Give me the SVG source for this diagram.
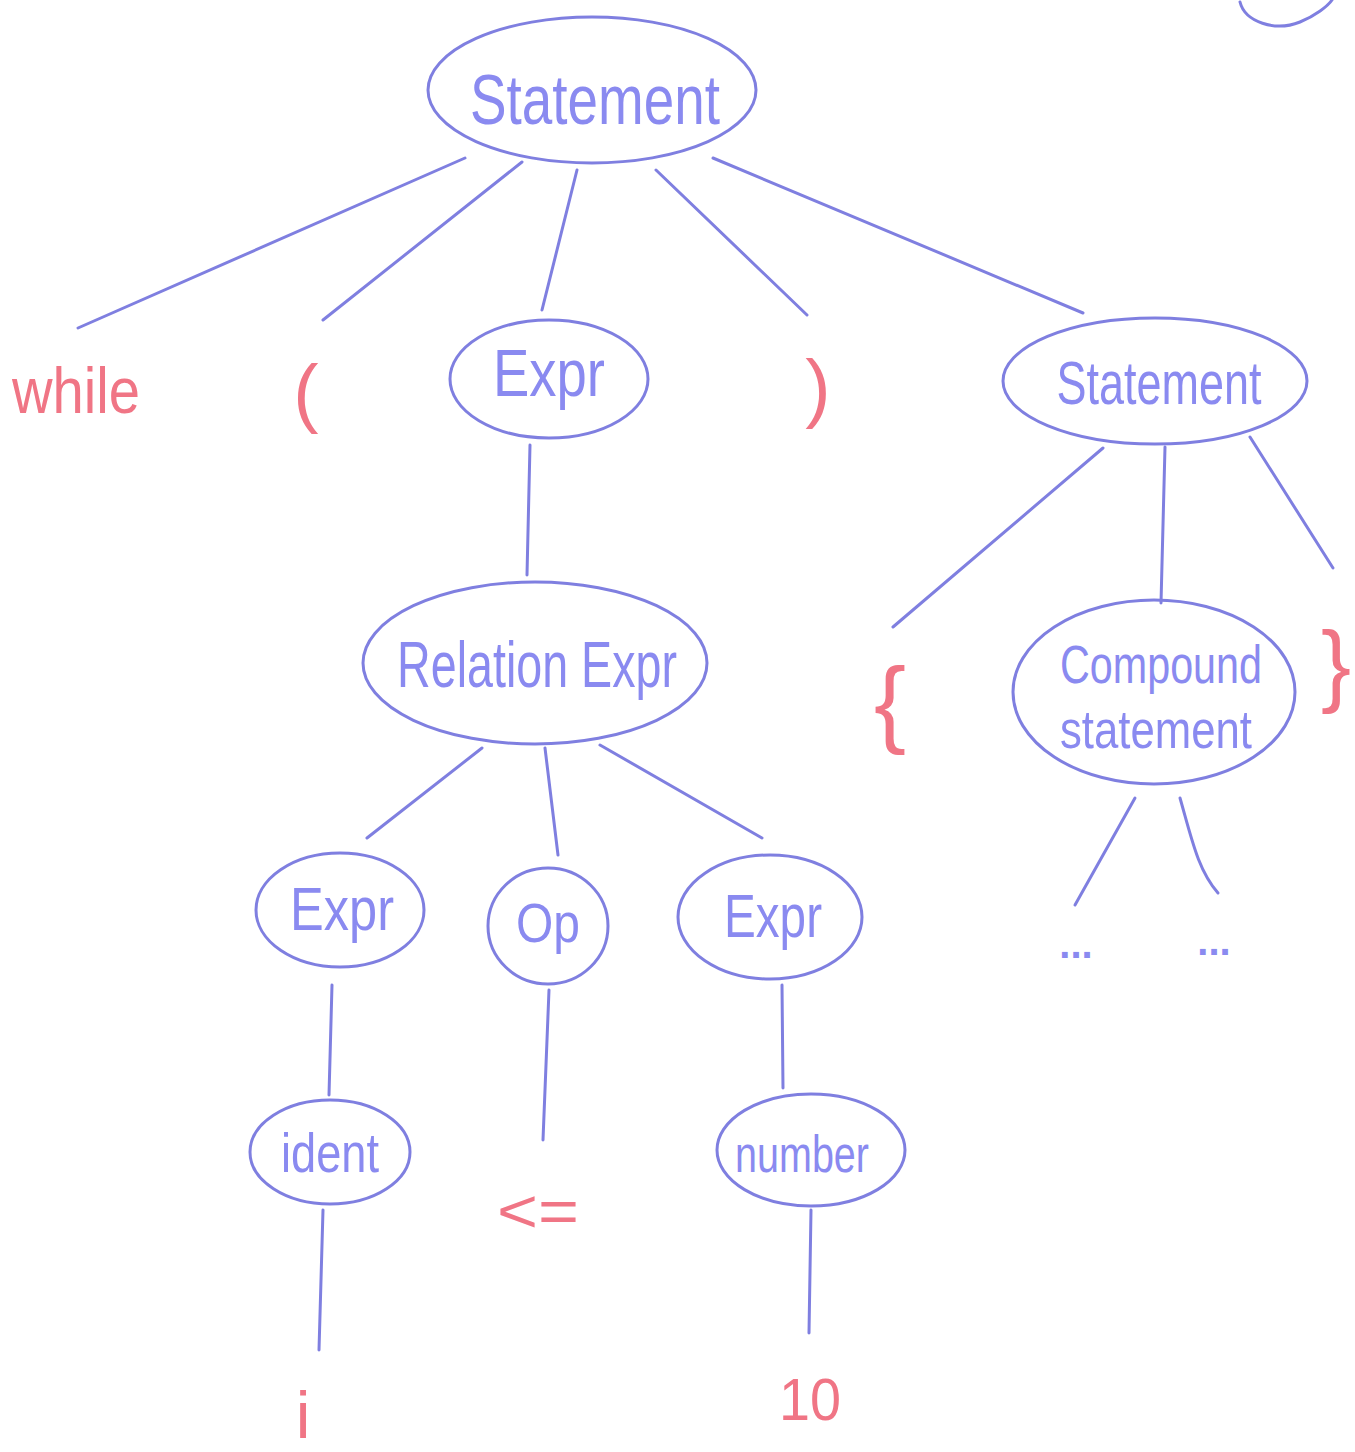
<svg xmlns="http://www.w3.org/2000/svg" width="1355" height="1452" viewBox="0 0 1355 1452">
<style>
.n{fill:none;stroke:#7f7fe0;stroke-width:3}
.e{stroke:#7f7fe0;stroke-width:3;fill:none;stroke-linecap:round}
.t{fill:#8a8af0;font-family:"Liberation Sans","DejaVu Sans",sans-serif;text-anchor:middle}
.r{fill:#f07585;font-family:"Liberation Sans","DejaVu Sans",sans-serif;text-anchor:middle}
</style>
<rect width="1355" height="1452" fill="#ffffff"/>
<path class="e" d="M1240,2 C1245,22 1275,32 1300,22 C1315,16 1328,6 1332,0"/>
<g id="connectors">
<line class="e" x1="465" y1="158" x2="78" y2="328"/>
<line class="e" x1="522" y1="162" x2="323" y2="320"/>
<line class="e" x1="577" y1="170" x2="542" y2="310"/>
<line class="e" x1="656" y1="170" x2="807" y2="315"/>
<line class="e" x1="713" y1="158" x2="1083" y2="313"/>
<line class="e" x1="530" y1="445" x2="527" y2="575"/>
<line class="e" x1="1103" y1="448" x2="893" y2="627"/>
<line class="e" x1="1165" y1="447" x2="1161" y2="603"/>
<line class="e" x1="1250" y1="437" x2="1333" y2="568"/>
<line class="e" x1="482" y1="748" x2="367" y2="838"/>
<line class="e" x1="545" y1="748" x2="558" y2="855"/>
<line class="e" x1="600" y1="745" x2="762" y2="838"/>
<line class="e" x1="1135" y1="798" x2="1075" y2="905"/>
<path class="e" d="M1180,798 C1192,840 1198,870 1218,893"/>
<line class="e" x1="332" y1="985" x2="329" y2="1095"/>
<line class="e" x1="549" y1="990" x2="543" y2="1140"/>
<line class="e" x1="782" y1="985" x2="783" y2="1088"/>
<line class="e" x1="323" y1="1210" x2="319" y2="1350"/>
<line class="e" x1="811" y1="1210" x2="809" y2="1333"/>
</g>
<g id="statement-root">
<ellipse class="n" cx="592" cy="90" rx="164" ry="73"/>
<text class="t" x="595" y="124" font-size="70" textLength="250" lengthAdjust="spacingAndGlyphs">Statement</text>
</g>
<g id="while"><text class="r" x="76" y="413" font-size="64" textLength="128" lengthAdjust="spacingAndGlyphs">while</text></g>
<g id="lparen"><text class="r" x="306" y="418" font-size="76">(</text></g>
<g id="expr-top">
<ellipse class="n" cx="549" cy="379" rx="99" ry="59"/>
<text class="t" x="549" y="396" font-size="66" textLength="112" lengthAdjust="spacingAndGlyphs">Expr</text>
</g>
<g id="rparen"><text class="r" x="818" y="413" font-size="76">)</text></g>
<g id="statement-2">
<ellipse class="n" cx="1155" cy="381" rx="152" ry="63"/>
<text class="t" x="1159" y="404" font-size="62" textLength="205" lengthAdjust="spacingAndGlyphs">Statement</text>
</g>
<g id="relation-expr">
<ellipse class="n" cx="535" cy="663" rx="172" ry="81"/>
<text class="t" x="537" y="687" font-size="64" textLength="280" lengthAdjust="spacingAndGlyphs">Relation Expr</text>
</g>
<g id="lbrace"><text class="r" x="890" y="735" font-size="96">{</text></g>
<g id="compound-statement">
<ellipse class="n" cx="1154" cy="692" rx="141" ry="92"/>
<text class="t" x="1161" y="683" font-size="54" textLength="202" lengthAdjust="spacingAndGlyphs">Compound</text>
<text class="t" x="1156" y="748" font-size="54" textLength="192" lengthAdjust="spacingAndGlyphs">statement</text>
</g>
<g id="rbrace"><text class="r" x="1336" y="695" font-size="90">}</text></g>
<g id="dots-1"><text class="t" x="1076" y="958" font-size="40" font-weight="bold">...</text></g>
<g id="dots-2"><text class="t" x="1214" y="955" font-size="40" font-weight="bold">...</text></g>
<g id="expr-left">
<ellipse class="n" cx="340" cy="910" rx="84" ry="57"/>
<text class="t" x="342" y="930" font-size="62" textLength="104" lengthAdjust="spacingAndGlyphs">Expr</text>
</g>
<g id="op">
<ellipse class="n" cx="548" cy="926" rx="60" ry="58"/>
<text class="t" x="548" y="942" font-size="56" textLength="64" lengthAdjust="spacingAndGlyphs">Op</text>
</g>
<g id="expr-right">
<ellipse class="n" cx="770" cy="917" rx="92" ry="62"/>
<text class="t" x="773" y="937" font-size="62" textLength="98" lengthAdjust="spacingAndGlyphs">Expr</text>
</g>
<g id="ident">
<ellipse class="n" cx="330" cy="1152" rx="80" ry="52"/>
<text class="t" x="330" y="1172" font-size="56" textLength="98" lengthAdjust="spacingAndGlyphs">ident</text>
</g>
<g id="le"><text class="r" x="538" y="1232" font-size="62" textLength="82" lengthAdjust="spacingAndGlyphs">&lt;=</text></g>
<g id="number">
<ellipse class="n" cx="811" cy="1150" rx="94" ry="56"/>
<text class="t" x="802" y="1172" font-size="52" textLength="134" lengthAdjust="spacingAndGlyphs">number</text>
</g>
<g id="i"><text class="r" x="303" y="1438" font-size="66">i</text></g>
<g id="ten"><text class="r" x="810" y="1420" font-size="60" textLength="62" lengthAdjust="spacingAndGlyphs">10</text></g>
</svg>
